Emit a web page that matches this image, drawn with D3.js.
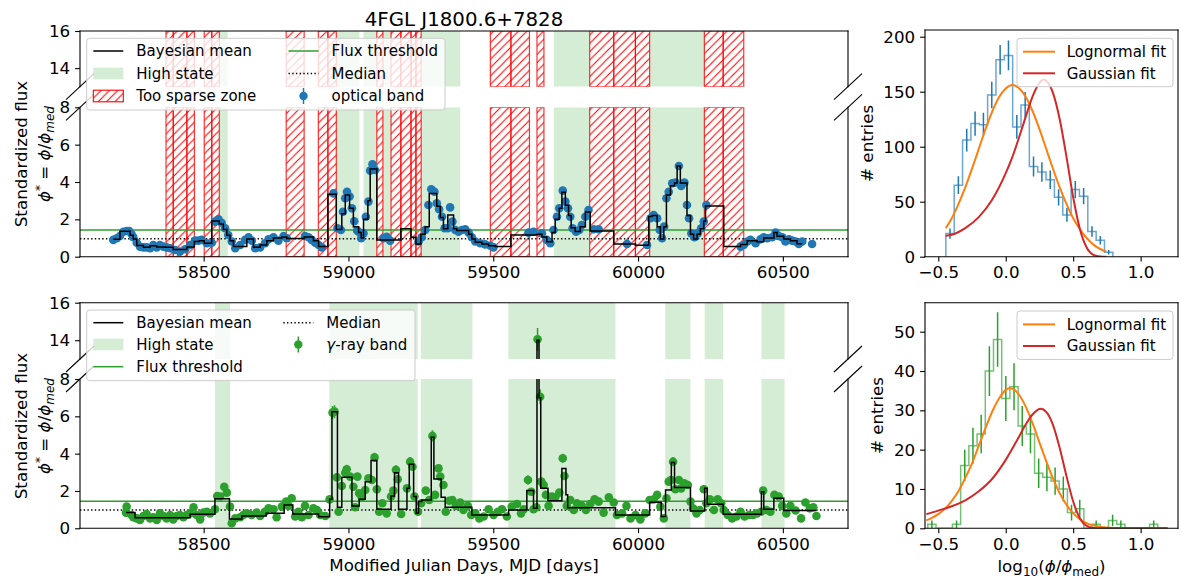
<!DOCTYPE html>
<html>
<head>
<meta charset="utf-8">
<script src="https://cdn.jsdelivr.net/npm/d3@7"></script>
<style>
  body { margin: 0; background: #fff; }
  svg { font-family: "DejaVu Sans", sans-serif; }
</style>
</head>
<body>
<svg id="fig" width="1182" height="579"></svg>
<script>
// ---------------------------------------------------------------
// data
// ---------------------------------------------------------------
const mjdTicks = [58500, 59000, 59500, 60000, 60500];

// optical band
const optHigh = [[58554, 58583], [58958, 59038], [59052, 59098], [59119, 59147], [59251, 59386],
  [59709, 59833], [60040, 60229]];
const optSparse = [[58370, 58395], [58395, 58442], [58442, 58468], [58502, 58528], [58528, 58554],
  [58785, 58847], [58896, 58929], [58929, 58958], [59098, 59119], [59147, 59181], [59181, 59216],
  [59216, 59233], [59233, 59251], [59490, 59561], [59561, 59625], [59651, 59675], [59833, 59916],
  [59916, 59991], [59991, 60040], [60229, 60294], [60294, 60365]];
const optThreshold = 1.43;
const optMedian = 0.96;
const optPoints = [[58188,0.90],[58200,0.99],[58211,1.11],[58223,1.34],[58234,1.38],[58243,1.38],[58251,1.22],
  [58257,1.04],[58269,0.75],[58280,0.54],[58292,0.50],[58303,0.50],[58315,0.45],[58326,0.63],[58338,0.50],
  [58349,0.63],[58361,0.54],[58372,0.50],[58384,0.45],[58401,0.36],[58418,0.27],[58436,0.40],[58453,0.63],
  [58470,0.86],[58482,0.86],[58493,0.90],[58511,0.72],[58528,0.75],[58539,1.88],[58551,2.00],[58562,1.82],
  [58574,1.52],[58585,1.16],[58597,0.81],[58609,0.45],[58626,0.63],[58643,0.90],[58655,1.04],[58666,0.86],
  [58678,0.45],[58695,0.50],[58712,0.72],[58724,0.93],[58741,1.04],[58758,0.86],[58776,1.11],[58787,0.99],
  [58850,1.11],[58862,1.04],[58873,0.90],[58885,0.75],[58897,0.63],[58908,0.50],[58948,3.39],[58962,1.52],
  [58974,1.43],[58981,2.41],[58989,3.13],[58995,3.48],[59004,3.22],[59012,2.59],[59020,1.90],[59030,1.40],
  [59035,1.34],[59044,0.99],[59052,1.25],[59060,2.14],[59069,2.95],[59075,4.61],[59083,4.95],[59092,4.64],
  [59121,0.99],[59132,1.07],[59144,0.86],[59242,0.81],[59253,1.04],[59265,1.43],[59276,2.77],[59286,3.61],
  [59297,3.48],[59305,2.86],[59313,2.54],[59323,2.14],[59332,1.52],[59343,1.52],[59351,2.64],[59359,1.88],
  [59369,1.43],[59380,1.34],[59392,1.43],[59403,1.47],[59415,1.29],[59426,1.04],[59438,0.81],[59455,0.72],
  [59472,0.66],[59490,0.59],[59501,0.50],[59622,1.29],[59639,1.34],[59668,1.25],[59685,0.90],[59697,0.72],
  [59708,1.43],[59720,2.14],[59728,2.59],[59740,3.54],[59749,2.95],[59758,2.59],[59766,2.14],[59774,1.52],
  [59786,1.34],[59797,1.43],[59806,1.70],[59818,2.14],[59829,2.50],[59847,1.47],[59864,1.47],[59962,0.68],
  [60031,0.63],[60043,2.06],[60054,2.23],[60066,2.06],[60075,1.43],[60083,0.99],[60090,1.61],[60098,3.13],
  [60106,3.48],[60118,3.93],[60129,3.97],[60141,4.86],[60149,3.79],[60160,3.97],[60169,2.77],[60176,2.06],
  [60184,1.25],[60195,1.04],[60206,1.25],[60218,1.52],[60227,1.88],[60236,2.77],[60354,0.54],[60365,0.63],
  [60377,0.81],[60388,0.90],[60406,0.72],[60423,0.93],[60434,1.04],[60446,0.99],[60463,1.04],[60475,1.29],
  [60486,1.11],[60498,1.04],[60509,0.81],[60521,0.93],[60532,0.86],[60544,0.81],[60555,0.68],[60567,0.81],
  [60601,0.68]];
// Bayesian blocks: [start, end, mean]
const optBlocks = [[58188,58211,0.93],[58211,58246,1.36],[58246,58257,1.15],[58257,58269,0.95],[58269,58292,0.60],
  [58292,58315,0.50],[58315,58338,0.58],[58338,58367,0.52],[58367,58395,0.50],[58395,58442,0.38],[58442,58468,0.52],
  [58468,58485,0.82],[58485,58502,0.86],[58502,58528,0.72],[58528,58554,1.91],[58554,58568,1.75],[58568,58580,1.45],
  [58580,58591,1.15],[58591,58603,0.85],[58603,58649,0.55],[58649,58672,0.95],[58672,58695,0.50],[58695,58718,0.62],
  [58718,58741,0.85],[58741,58770,1.00],[58770,58787,1.05],[58787,58847,0.98],[58847,58879,1.05],[58879,58897,0.85],
  [58897,58929,0.55],[58929,58958,3.34],[58958,58977,1.45],[58977,58989,2.30],[58989,59004,3.30],[59004,59017,2.60],
  [59017,59035,1.60],[59035,59044,1.30],[59044,59052,1.00],[59052,59067,2.00],[59067,59075,3.00],[59075,59098,4.70],
  [59098,59181,0.90],[59181,59216,1.50],[59216,59233,1.04],[59233,59250,0.68],[59250,59265,1.20],[59265,59279,1.60],
  [59279,59305,3.39],[59305,59317,2.70],[59317,59328,2.10],[59328,59343,1.50],[59343,59363,2.23],[59363,59374,1.50],
  [59374,59415,1.40],[59415,59426,1.20],[59426,59438,0.95],[59438,59461,0.78],[59461,59484,0.68],[59484,59507,0.58],
  [59507,59561,0.54],[59561,59651,1.16],[59651,59668,1.20],[59668,59685,1.05],[59685,59703,0.80],[59703,59714,1.30],
  [59714,59728,2.00],[59728,59737,2.60],[59737,59749,3.45],[59749,59760,2.75],[59760,59769,2.20],[59769,59783,1.55],
  [59783,59800,1.35],[59800,59818,1.60],[59818,59835,2.40],[59835,59916,1.38],[59916,59991,0.68],[59991,60037,0.61],
  [60037,60048,2.15],[60048,60066,2.20],[60066,60077,1.60],[60077,60089,0.95],[60089,60098,1.60],[60098,60112,3.30],
  [60112,60126,3.80],[60126,60135,3.95],[60135,60146,4.86],[60146,60169,3.95],[60169,60181,2.20],[60181,60192,1.20],
  [60192,60204,0.95],[60204,60215,1.20],[60215,60227,1.50],[60227,60233,1.90],[60233,60296,2.72],[60296,60354,0.54],
  [60354,60377,0.65],[60377,60411,0.85],[60411,60434,0.80],[60434,60469,1.00],[60469,60480,1.30],[60480,60503,1.10],
  [60503,60526,0.95],[60526,60549,0.85],[60549,60567,0.70]];

// gamma-ray band
const gamHigh = [[58539, 58591], [58934, 59239], [59250, 59428], [59552, 59922], [60094, 60181],
  [60230, 60294], [60426, 60506]];
const gamThreshold = 1.45;
const gamMedian = 0.98;
// [mjd, flux, error (only where visible)]
const gamPoints = [[58232,0.84],[58234,1.16],[58251,0.71],[58257,0.59],[58269,0.53],[58280,0.45],[58292,0.66],
  [58303,0.77],[58315,0.53],[58326,0.59],[58338,0.45],[58349,0.80],[58361,0.66],[58372,0.53],[58384,0.71],
  [58395,0.48],[58407,0.66],[58418,0.71],[58430,0.59],[58441,0.71],[58453,0.80],[58465,1.12],[58476,0.71],
  [58488,0.48],[58499,0.84],[58511,0.89],[58522,0.80],[58539,1.02],[58547,1.73],[58557,1.70],[58571,2.23,0.2],
  [58580,1.91],[58591,1.16],[58597,0.27],[58609,0.53],[58626,0.59],[58637,0.71],[58649,0.80],[58666,0.71],
  [58683,0.84],[58695,0.66],[58712,0.89],[58724,1.07],[58741,1.02],[58752,0.59],[58770,1.16],[58785,1.43],
  [58793,1.20],[58804,1.61],[58816,0.63],[58827,0.89],[58839,0.59],[58850,1.20],[58862,0.71],[58879,1.07],
  [58891,0.98],[58902,0.71],[58920,0.66],[58935,1.55],[58945,6.20,0.35],[58952,6.25,0.35],[58960,2.73],
  [58966,0.89],[58977,2.27],[58989,2.98],[58994,3.16,0.25],[59006,2.77],[59017,2.23],[59023,1.13],[59031,2.77],
  [59037,1.88],[59046,1.66],[59058,2.05],[59069,2.68],[59081,2.59],[59090,3.80,0.25],[59098,2.09],[59106,0.89],
  [59117,1.34],[59132,0.80],[59147,1.70],[59155,2.02],[59164,3.13,0.25],[59170,2.63],[59182,0.77],[59202,2.14],
  [59213,3.57,0.25],[59221,3.30],[59228,1.70],[59240,0.89],[59251,1.34],[59267,2.02],[59279,1.52],
  [59290,4.95,0.3],[59299,1.79],[59311,3.21],[59317,2.77],[59328,2.32],[59336,0.89],[59348,1.48],[59359,1.52],
  [59371,1.20],[59386,1.38],[59397,0.98],[59412,1.20],[59424,0.71],[59438,0.80],[59452,0.53],[59467,0.63],
  [59484,1.02],[59501,0.71],[59516,0.89],[59530,1.02],[59547,0.63],[59564,1.16],[59582,1.30],[59596,0.80],
  [59605,1.02],[59620,2.59,0.25],[59631,1.96],[59639,1.02],[59649,1.13],[59653,14.05,0.6],[59662,7.05,0.4],
  [59666,2.50],[59674,2.32],[59682,1.79],[59691,1.20],[59703,1.70],[59714,1.66],[59728,1.91],[59740,3.75,0.25],
  [59746,2.80],[59754,1.20],[59766,1.52],[59778,0.98],[59789,1.34],[59806,1.20],[59820,0.98],[59835,1.30],
  [59850,1.55],[59864,1.43],[59881,0.84],[59899,1.66],[59916,1.38],[59927,0.71],[59945,0.80],[59960,1.20],
  [59974,0.53],[59991,0.71],[60008,0.48],[60025,0.80],[60040,1.52],[60054,1.55],[60066,1.79],[60077,1.16],
  [60089,0.53],[60098,1.61],[60106,2.50],[60114,2.59],[60121,3.57,0.25],[60129,2.09],[60141,2.59],[60149,2.14],
  [60160,2.41],[60172,2.32],[60181,1.43],[60190,1.07],[60202,0.80],[60213,0.98],[60227,2.09],[60236,1.34],
  [60248,1.55],[60262,0.98],[60275,1.55],[60287,1.34],[60296,0.98],[60310,0.71],[60325,0.53],[60340,0.63],
  [60354,0.89],[60368,0.63],[60383,0.71],[60397,0.71],[60411,0.80],[60425,0.89],[60432,2.02],[60443,0.98],
  [60457,0.89],[60471,1.79],[60486,1.70],[60498,1.20],[60512,0.80],[60526,1.20],[60544,0.95],[60563,0.53],
  [60578,1.38],[60593,1.07],[60605,1.13],[60616,0.66]];
const gamBlocks = [[58232,58263,0.84],[58263,58453,0.57],[58453,58539,0.75],[58539,58589,1.59],[58589,58632,0.50],
  [58632,58716,0.66],[58716,58778,0.80],[58778,58808,1.25],[58808,58897,0.77],[58897,58935,0.62],[58935,58943,1.55],
  [58943,58962,6.25],[58962,58977,1.13],[58977,59012,2.73],[59012,59037,1.20],[59037,59058,1.55],[59058,59078,2.50],
  [59078,59098,3.63],[59098,59147,1.02],[59147,59159,1.73],[59159,59173,2.98],[59173,59202,1.02],[59202,59210,2.14],
  [59210,59225,3.43],[59225,59234,1.70],[59234,59242,0.80],[59242,59253,1.43],[59253,59286,1.52],[59286,59295,4.88],
  [59295,59320,2.64],[59320,59334,1.66],[59334,59426,1.13],[59426,59553,0.71],[59553,59616,0.98],[59616,59639,2.02],
  [59639,59651,1.07],[59651,59658,14.0],[59658,59664,7.0],[59664,59689,2.14],[59689,59737,1.48],[59737,59751,3.21],
  [59751,59757,1.80],[59757,59922,1.10],[59922,60040,0.71],[60040,60080,1.39],[60080,60095,0.63],[60095,60115,2.05],
  [60115,60126,3.52],[60126,60181,2.18],[60181,60230,0.93],[60230,60239,2.14],[60239,60294,1.29],[60294,60426,0.75],
  [60426,60434,1.96],[60434,60469,1.02],[60469,60503,1.61],[60503,60616,0.95]];

// histograms of log10(phi/phi_med)
const optHistStart = -0.444, optHistWidth = 0.0619;
const optHistCounts = [21, 65, 106, 121, 120, 147, 179, 183, 118, 138, 82, 77, 70, 54, 38, 61, 55, 23, 15, 4];
const gamHistStart = -0.578, gamHistWidth = 0.0609;
const gamHistCounts = [1, 0, 0, 1, 16, 21, 24, 40, 48, 33, 36, 26, 24, 14, 13, 12, 10, 4, 5, 0, 1, 0, 2, 1, 0, 0, 0, 1];

// fitted curves: [log10 value, entries]
const optLognormFit = [[-0.444,26],[-0.40,35],[-0.35,48],[-0.30,63],[-0.25,80],[-0.20,98],[-0.15,116],[-0.10,132],
  [-0.05,145],[0.00,153],[0.05,156],[0.10,153],[0.15,145],[0.20,132],[0.25,116],[0.30,98],[0.35,80],[0.40,63],
  [0.45,48],[0.50,35],[0.55,25],[0.60,17],[0.65,11],[0.70,7],[0.745,4.5]];
const optGaussFit = [[-0.444,19],[-0.40,20],[-0.30,26],[-0.20,36],[-0.10,52],[0.00,76],[0.05,91],[0.10,109],
  [0.15,128],[0.20,146],[0.25,158],[0.28,161],[0.30,160],[0.35,149],[0.40,125],[0.45,91],[0.50,54],[0.55,25],
  [0.60,8.3],[0.65,1.7],[0.70,0.2],[0.745,0]];
const gamLognormFit = [[-0.589,2.0],[-0.55,2.6],[-0.50,3.6],[-0.45,5.0],[-0.40,7.0],[-0.35,9.5],[-0.30,12.8],
  [-0.25,16.5],[-0.20,21],[-0.15,25.5],[-0.10,29.7],[-0.05,33],[0.00,35.2],[0.03,35.6],[0.05,35.5],[0.10,33.9],
  [0.15,30.8],[0.20,26.6],[0.25,21.8],[0.30,17.1],[0.35,12.7],[0.40,8.9],[0.45,6.0],[0.50,3.8],[0.55,2.3],
  [0.60,1.3],[0.70,0.4],[0.80,0.1],[0.95,0],[1.20,0]];
const gamGaussFit = [[-0.589,3.6],[-0.50,4.5],[-0.40,5.6],[-0.30,7.1],[-0.20,9.4],[-0.10,12.6],[0.00,17.4],
  [0.10,23.4],[0.15,26.5],[0.20,29.0],[0.26,30.4],[0.30,29.6],[0.35,26.3],[0.40,20.4],[0.45,13.3],[0.50,6.8],
  [0.55,2.5],[0.60,0.6],[0.65,0.1],[0.70,0],[1.20,0]];

// ---------------------------------------------------------------
// layout
// ---------------------------------------------------------------
const C0 = "#1f77b4", C1 = "#ff7f0e", C2 = "#2ca02c", C3 = "#d62728";
const FS = 16.7, LFS = 15;
const X0 = 80, X1 = 848;
const HX0 = 925, HX1 = 1178;

const svg = d3.select("#fig");
const defs = svg.append("defs");

const xMain = d3.scaleLinear().domain([58073, 60725]).range([X0, X1]);
const xHist = d3.scaleLinear().domain([-0.5986, 1.277]).range([HX0, HX1]);

const hatch = defs.append("pattern").attr("id", "hatch")
  .attr("patternUnits", "userSpaceOnUse")
  .attr("width", 8.33).attr("height", 8.33);
hatch.append("path")
  .attr("d", "M-1,1 l2,-2 M0,8.33 l8.33,-8.33 M7.33,9.33 l2,-2")
  .attr("stroke", "#ff0000").attr("stroke-width", 1.1);

const styleAxis = (sel) => {
  sel.attr("font-size", null).attr("font-family", null);
  sel.select(".domain").remove();
  sel.selectAll(".tick line").attr("stroke", "#000").attr("stroke-width", 1.1);
  sel.selectAll(".tick text").attr("fill", "#000").style("font-size", FS + "px");
};

const spine = (g, x1, y1, x2, y2) => {
  g.append("line").attr("x1", x1).attr("y1", y1).attr("x2", x2).attr("y2", y2)
    .attr("stroke", "#000").attr("stroke-width", 1.1).attr("stroke-linecap", "square");
};

const stepPoints = (blocks) => {
  const pts = blocks.map(b => [b[0], b[2]]);
  const last = blocks[blocks.length - 1];
  pts.push([last[1], last[2]]);
  return pts;
};

/////////////////////////////////////////////////////////
// LIGHT CURVE PANELS (broken y axis)

const drawLightCurve = (p) => {
  const g = svg.append("g");
  const parts = [
    { name: "u", dom: [13, 16], top: p.upper[0], bot: p.upper[1], ticks: [14, 16], upper: true },
    { name: "l", dom: [0, 8], top: p.lower[0], bot: p.lower[1], ticks: [0, 2, 4, 6, 8], upper: false }
  ];

  parts.forEach(part => {
    const y = d3.scaleLinear().domain(part.dom).range([part.bot, part.top]);
    const cid = p.id + part.name;
    defs.append("clipPath").attr("id", cid).append("rect")
      .attr("x", X0).attr("y", part.top).attr("width", X1 - X0).attr("height", part.bot - part.top);

    const c = g.append("g").attr("clip-path", `url(#${cid})`);

    c.selectAll("rect.high").data(p.high).join("rect")
      .attr("class", "high")
      .attr("x", d => xMain(d[0]))
      .attr("width", d => xMain(d[1]) - xMain(d[0]))
      .attr("y", part.top).attr("height", part.bot - part.top)
      .attr("fill", C2).attr("fill-opacity", 0.2);

    c.selectAll("rect.sparse").data(p.sparse || []).join("rect")
      .attr("class", "sparse")
      .attr("x", d => xMain(d[0]))
      .attr("width", d => xMain(d[1]) - xMain(d[0]))
      .attr("y", part.top).attr("height", part.bot - part.top)
      .attr("fill", "url(#hatch)")
      .attr("stroke", "#ff0000").attr("stroke-opacity", 0.8).attr("stroke-width", 1.2);

    c.append("line")
      .attr("x1", X0).attr("x2", X1).attr("y1", y(p.threshold)).attr("y2", y(p.threshold))
      .attr("stroke", C2).attr("stroke-width", 1.4);

    c.append("line")
      .attr("x1", X0).attr("x2", X1).attr("y1", y(p.median)).attr("y2", y(p.median))
      .attr("stroke", "#000").attr("stroke-width", 1.4).attr("stroke-dasharray", "1.4,2.3");

    c.selectAll("line.err").data(p.points.filter(d => d[2])).join("line")
      .attr("class", "err")
      .attr("x1", d => xMain(d[0])).attr("x2", d => xMain(d[0]))
      .attr("y1", d => y(d[1] - d[2])).attr("y2", d => y(d[1] + d[2]))
      .attr("stroke", p.color).attr("stroke-width", 1.5);

    c.selectAll("circle").data(p.points).join("circle")
      .attr("cx", d => xMain(d[0])).attr("cy", d => y(d[1]))
      .attr("r", 4.3).attr("fill", p.color);

    c.append("path").datum(stepPoints(p.blocks))
      .attr("d", d3.line().x(d => xMain(d[0])).y(d => y(d[1])).curve(d3.curveStepAfter))
      .attr("fill", "none").attr("stroke", "#000").attr("stroke-width", 1.5);

    // spines
    spine(g, X0, part.top, X0, part.bot);
    spine(g, X1, part.top, X1, part.bot);
    if (part.upper) spine(g, X0, part.top, X1, part.top);
    else spine(g, X0, part.bot, X1, part.bot);

    g.append("g").attr("transform", `translate(${X0},0)`)
      .call(d3.axisLeft(y).tickValues(part.ticks).tickSize(4.9).tickPadding(4.9).tickFormat(d3.format("d")))
      .call(styleAxis);
  });

  g.append("g").attr("transform", `translate(0,${p.lower[1]})`)
    .call(d3.axisBottom(xMain).tickValues(mjdTicks).tickSize(4.9).tickPadding(4.9).tickFormat(d3.format("d")))
    .call(styleAxis);

  // break marks
  [[X0, p.upper[1]], [X1, p.upper[1]], [X0, p.lower[0]], [X1, p.lower[0]]].forEach(([cx, cy]) => {
    g.append("line").attr("x1", cx - 14).attr("y1", cy + 13).attr("x2", cx + 14).attr("y2", cy - 13)
      .attr("stroke", "#000").attr("stroke-width", 1.1);
  });

  // y label (two lines)
  const lab = g.append("g").attr("transform", `translate(0,${p.labelY}) rotate(-90)`);
  lab.append("text").attr("x", 0).attr("y", 27).attr("text-anchor", "middle")
    .style("font-size", FS + "px").text("Standardized flux");
  const l2 = lab.append("text").attr("x", 0).attr("y", 50).attr("text-anchor", "middle")
    .style("font-size", FS + "px");
  l2.append("tspan").attr("font-style", "italic").text("ϕ");
  l2.append("tspan").attr("dy", -6).style("font-size", "12px").text("*");
  l2.append("tspan").attr("dy", 6).text(" = ");
  l2.append("tspan").attr("font-style", "italic").text("ϕ");
  l2.append("tspan").text("/");
  l2.append("tspan").attr("font-style", "italic").text("ϕ");
  l2.append("tspan").attr("dy", 4).attr("font-style", "italic").style("font-size", "12px").text("med");

  return g;
};

drawLightCurve({
  id: "opt", upper: [31, 86.7], lower: [107.3, 256.7], labelY: 154,
  high: optHigh, sparse: optSparse, threshold: optThreshold, median: optMedian,
  points: optPoints, blocks: optBlocks, color: C0
});
drawLightCurve({
  id: "gam", upper: [302.7, 359], lower: [379, 528.3], labelY: 426,
  high: gamHigh, sparse: null, threshold: gamThreshold, median: gamMedian,
  points: gamPoints, blocks: gamBlocks, color: C2
});

/////////////////////////////////////////////////////////
// HISTOGRAMS

const drawHist = (h) => {
  const g = svg.append("g");
  const y = d3.scaleLinear().domain([0, h.ymax]).range([h.bot, h.top]);
  const cid = h.id + "clip";
  defs.append("clipPath").attr("id", cid).append("rect")
    .attr("x", HX0).attr("y", h.top).attr("width", HX1 - HX0).attr("height", h.bot - h.top);
  const c = g.append("g").attr("clip-path", `url(#${cid})`);

  const pts = [[h.start, 0]];
  h.counts.forEach((n, i) => {
    pts.push([h.start + i * h.width, n]);
    pts.push([h.start + (i + 1) * h.width, n]);
  });
  pts.push([h.start + h.counts.length * h.width, 0]);

  c.append("path").datum(pts)
    .attr("d", d3.line().x(d => xHist(d[0])).y(d => y(d[1])))
    .attr("fill", "none").attr("stroke", h.color).attr("stroke-opacity", 0.65).attr("stroke-width", 1.5);

  const bars = h.counts.map((n, i) => ({ x: h.start + (i + 0.5) * h.width, n: n })).filter(d => d.n > 0);
  c.selectAll("line.err").data(bars).join("line")
    .attr("class", "err")
    .attr("x1", d => xHist(d.x)).attr("x2", d => xHist(d.x))
    .attr("y1", d => y(d.n - Math.sqrt(d.n))).attr("y2", d => y(d.n + Math.sqrt(d.n)))
    .attr("stroke", h.color).attr("stroke-width", 1.5);

  const curve = d3.line().x(d => xHist(d[0])).y(d => y(d[1])).curve(d3.curveMonotoneX);
  c.append("path").datum(h.lognorm).attr("d", curve)
    .attr("fill", "none").attr("stroke", C1).attr("stroke-width", 2);
  c.append("path").datum(h.gauss).attr("d", curve)
    .attr("fill", "none").attr("stroke", C3).attr("stroke-width", 2);

  spine(g, HX0, h.top, HX0, h.bot);
  spine(g, HX1, h.top, HX1, h.bot);
  spine(g, HX0, h.top, HX1, h.top);
  spine(g, HX0, h.bot, HX1, h.bot);

  g.append("g").attr("transform", `translate(${HX0},0)`)
    .call(d3.axisLeft(y).tickValues(h.yticks).tickSize(4.9).tickPadding(4.9).tickFormat(d3.format("d")))
    .call(styleAxis);
  g.append("g").attr("transform", `translate(0,${h.bot})`)
    .call(d3.axisBottom(xHist).tickValues([-0.5, 0, 0.5, 1.0]).tickSize(4.9).tickPadding(4.9)
      .tickFormat(d => d.toFixed(1).replace("-", "\u2212")))
    .call(styleAxis);

  g.append("text")
    .attr("transform", `translate(${h.labelX},${(h.top + h.bot) / 2}) rotate(-90)`)
    .attr("text-anchor", "middle").style("font-size", FS + "px").text("# entries");

  // legend
  const lg = g.append("g");
  lg.append("rect").attr("x", 1017).attr("y", h.top + 8.3).attr("width", 156).attr("height", 48.4)
    .attr("rx", 3).attr("fill", "#fff").attr("fill-opacity", 0.8).attr("stroke", "#ccc");
  [["Lognormal fit", C1], ["Gaussian fit", C3]].forEach((e, i) => {
    const cy = h.top + 21.7 + i * 21.6;
    lg.append("line").attr("x1", 1023).attr("x2", 1055).attr("y1", cy).attr("y2", cy)
      .attr("stroke", e[1]).attr("stroke-width", 2);
    lg.append("text").attr("x", 1066.7).attr("y", cy + 5.3).style("font-size", LFS + "px").text(e[0]);
  });
};

drawHist({
  id: "oh", top: 30, bot: 256.7, ymax: 206.1, yticks: [0, 50, 100, 150, 200], labelX: 873,
  start: optHistStart, width: optHistWidth, counts: optHistCounts, color: C0,
  lognorm: optLognormFit, gauss: optGaussFit
});
drawHist({
  id: "gh", top: 302.7, bot: 528.3, ymax: 57.37, yticks: [0, 10, 20, 30, 40, 50], labelX: 883,
  start: gamHistStart, width: gamHistWidth, counts: gamHistCounts, color: C2,
  lognorm: gamLognormFit, gauss: gamGaussFit
});

/////////////////////////////////////////////////////////
// LEGENDS (light curves)

const legendBox = (x, y, w, h) => svg.append("rect").attr("x", x).attr("y", y).attr("width", w).attr("height", h)
  .attr("rx", 3).attr("fill", "#fff").attr("fill-opacity", 0.8).attr("stroke", "#ccc");

const legendEntry = (hx, cy, kind, color, label) => {
  const g = svg.append("g");
  if (kind === "line") {
    g.append("line").attr("x1", hx).attr("x2", hx + 30).attr("y1", cy).attr("y2", cy)
      .attr("stroke", color).attr("stroke-width", 1.5);
  } else if (kind === "dotted") {
    g.append("line").attr("x1", hx).attr("x2", hx + 30).attr("y1", cy).attr("y2", cy)
      .attr("stroke", "#000").attr("stroke-width", 1.4).attr("stroke-dasharray", "1.4,2.3");
  } else if (kind === "patch") {
    g.append("rect").attr("x", hx).attr("y", cy - 5.8).attr("width", 30).attr("height", 11.6)
      .attr("fill", C2).attr("fill-opacity", 0.2);
  } else if (kind === "hatch") {
    g.append("rect").attr("x", hx).attr("y", cy - 5.8).attr("width", 30).attr("height", 11.6)
      .attr("fill", "url(#hatch)").attr("stroke", "#ff0000").attr("stroke-width", 1.1);
  } else if (kind === "point") {
    g.append("line").attr("x1", hx + 15).attr("x2", hx + 15).attr("y1", cy - 8).attr("y2", cy + 8)
      .attr("stroke", color).attr("stroke-width", 1.5);
    g.append("circle").attr("cx", hx + 15).attr("cy", cy).attr("r", 4.2).attr("fill", color);
  }
  const t = g.append("text").attr("x", hx + 43).attr("y", cy + 5.3).style("font-size", LFS + "px");
  if (Array.isArray(label)) {
    t.append("tspan").attr("font-style", "italic").text(label[0]);
    t.append("tspan").text(label[1]);
  } else {
    t.text(label);
  }
};

legendBox(86.7, 38.3, 358.3, 71.7);
legendEntry(93.3, 51, "line", "#000", "Bayesian mean");
legendEntry(93.3, 73.5, "patch", C2, "High state");
legendEntry(93.3, 96, "hatch", "#f00", "Too sparse zone");
legendEntry(288.5, 51, "line", C2, "Flux threshold");
legendEntry(288.5, 73.5, "dotted", "#000", "Median");
legendEntry(288.5, 96, "point", C0, "optical band");

legendBox(86.7, 310, 328.3, 70.7);
legendEntry(93.3, 322.7, "line", "#000", "Bayesian mean");
legendEntry(93.3, 344.5, "patch", C2, "High state");
legendEntry(93.3, 366.7, "line", C2, "Flux threshold");
legendEntry(283.3, 322.7, "dotted", "#000", "Median");
legendEntry(283.3, 344.5, "point", C2, ["γ", "-ray band"]);

/////////////////////////////////////////////////////////
// TITLES

svg.append("text").attr("x", (X0 + X1) / 2).attr("y", 26).attr("text-anchor", "middle")
  .style("font-size", "19.8px").text("4FGL J1800.6+7828");

svg.append("text").attr("x", (X0 + X1) / 2).attr("y", 571).attr("text-anchor", "middle")
  .style("font-size", FS + "px").text("Modified Julian Days, MJD [days]");

const xl = svg.append("text").attr("x", (HX0 + HX1) / 2).attr("y", 572).attr("text-anchor", "middle")
  .style("font-size", FS + "px");
xl.append("tspan").text("log");
xl.append("tspan").attr("dy", 4).style("font-size", "12px").text("10");
xl.append("tspan").attr("dy", -4).text("(");
xl.append("tspan").attr("font-style", "italic").text("ϕ");
xl.append("tspan").text("/");
xl.append("tspan").attr("font-style", "italic").text("ϕ");
xl.append("tspan").attr("dy", 4).style("font-size", "12px").text("med");
xl.append("tspan").attr("dy", -4).text(")");
</script>
</body>
</html>
